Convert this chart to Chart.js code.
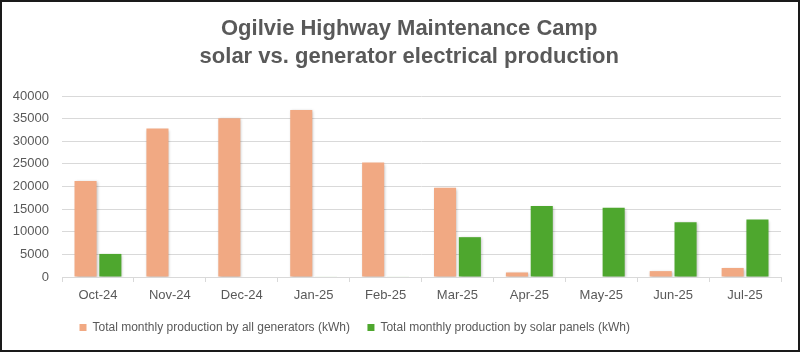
<!DOCTYPE html>
<html>
<head>
<meta charset="utf-8">
<script src="https://cdn.jsdelivr.net/npm/chart.js@4.4.1/dist/chart.umd.min.js"></script>
<style>
  html, body { margin: 0; padding: 0; background: #ffffff; }
  #frame { width: 800px; height: 352px; box-sizing: border-box; border: 2px solid #1a1a1a; background: #fff; }
  canvas { display: block; }
</style>
</head>
<body>
<div id="frame"><canvas id="c" width="796" height="348"></canvas></div>
<script>
const categories = ["Oct-24", "Nov-24", "Dec-24", "Jan-25", "Feb-25", "Mar-25", "Apr-25", "May-25", "Jun-25", "Jul-25"];
const generatorKWh = [21200, 32800, 35100, 36900, 25300, 19700, 1000, 0, 1300, 2000];
const solarKWh = [5100, 0, 0, 100, 100, 8800, 15700, 15300, 12100, 12700];
const seriesNames = ["Total monthly production by all generators (kWh)", "Total monthly production by solar panels (kWh)"];
const titleLines = ["Ogilvie Highway Maintenance Camp", "solar vs. generator electrical production"];
const yTicks = { min: 0, max: 40000, step: 5000 };

const textColor = "#595959";
const gridColor = "#d9d9d9";

const shadowPlugin = {
  id: "barShadow",
  beforeDatasetsDraw(chart) {
    const ctx = chart.ctx;
    ctx.save();
    ctx.shadowColor = "rgba(0,0,0,0.28)";
    ctx.shadowBlur = 3;
    ctx.shadowOffsetX = 1;
    ctx.shadowOffsetY = 1;
  },
  afterDatasetsDraw(chart) {
    chart.ctx.restore();
  }
};

new Chart(document.getElementById("c"), {
  type: "bar",
  data: {
    labels: categories,
    datasets: [
      { label: seriesNames[0], data: generatorKWh, backgroundColor: "#F1A983", borderWidth: 0 },
      { label: seriesNames[1], data: solarKWh, backgroundColor: "#4EA72E", borderWidth: 0 }
    ]
  },
  options: {
    responsive: false,
    animation: false,
    devicePixelRatio: 1,
    layout: { padding: { left: 0, right: 17, top: 0, bottom: 6.5 } },
    datasets: { bar: { categoryPercentage: 0.69, barPercentage: 0.89 } },
    scales: {
      x: {
        grid: { display: true, drawOnChartArea: false, drawTicks: true, tickLength: 5, color: gridColor, offset: true },
        border: { display: true, color: gridColor, width: 1 },
        ticks: { color: textColor, font: { family: "Liberation Sans", size: 13 }, padding: 6, maxRotation: 0 },
        afterFit(scale) { scale.height = 27; }
      },
      y: {
        min: yTicks.min,
        max: yTicks.max,
        grid: { color: gridColor, drawTicks: false, lineWidth: 1 },
        border: { display: false },
        ticks: {
          stepSize: yTicks.step, color: textColor, font: { family: "Liberation Sans", size: 13 }, padding: 13,
          callback: (v) => String(v)
        },
        afterFit(scale) { scale.width = 60; }
      }
    },
    plugins: {
      title: {
        display: true,
        fullSize: false,
        text: titleLines.map(t => t + "    "),
        color: textColor,
        font: { family: "Liberation Sans", size: 22, weight: "bold", lineHeight: "28px" },
        padding: { top: 13, bottom: 25 }
      },
      legend: {
        position: "bottom",
        align: "start",
        fullSize: false,
        labels: {
          color: textColor,
          boxWidth: 7,
          boxHeight: 7,
          padding: 17.5,
          font: { family: "Liberation Sans", size: 12 }
        }
      },
      tooltip: { enabled: false }
    }
  },
  plugins: [shadowPlugin]
});
</script>
</body>
</html>
